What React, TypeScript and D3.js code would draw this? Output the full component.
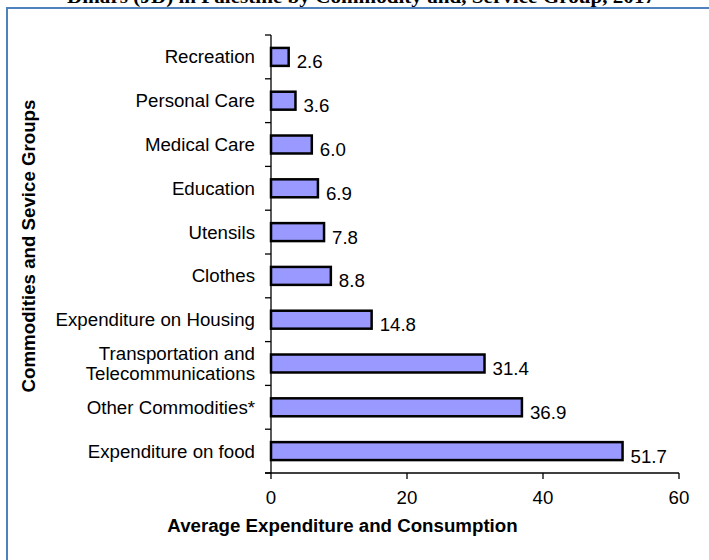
import React from "react";
import * as d3 from "d3";

const categories = [
  "Recreation",
  "Personal Care",
  "Medical Care",
  "Education",
  "Utensils",
  "Clothes",
  "Expenditure on Housing",
  "Transportation and\nTelecommunications",
  "Other Commodities*",
  "Expenditure on food",
];
const values = [2.6, 3.6, 6.0, 6.9, 7.8, 8.8, 14.8, 31.4, 36.9, 51.7];
const xTicks = [0, 20, 40, 60];
const title = "Dinars (JD) in Palestine by Commodity and, Service Group, 2017";
const xTitle = "Average Expenditure and Consumption";
const yTitle = "Commodities and Sevice Groups";

export default function App() {
  const W = 709;
  const H = 560;
  const FS = 18.7;
  const x = d3.scaleLinear().domain([0, 60]).range([271, 679]);
  const y = d3
    .scaleBand<string>()
    .domain(categories)
    .range([35, 473])
    .paddingInner(0.59)
    .paddingOuter(0.295);
  const step = y.step();
  const top = 35;
  const font = "Arial, 'Liberation Sans', sans-serif";
  const boundaries = d3.range(categories.length + 1).map((k) => top + k * step);

  return (
    <svg
      width={W}
      height={H}
      style={{ position: "absolute", left: 0, top: 0, background: "#fff" }}
    >
      <rect x={0} y={0} width={W} height={H} fill="#fff" />
      <text
        x={361}
        y={3}
        textAnchor="middle"
        fontFamily="'Liberation Serif', 'Times New Roman', serif"
        fontWeight="bold"
        fontSize={18}
        textLength={588}
        lengthAdjust="spacingAndGlyphs"
      >
        {title}
      </text>
      <rect
        x={7}
        y={8}
        width={W + 20}
        height={H + 20}
        fill="none"
        stroke="#4f81bd"
        strokeWidth={2}
      />
      {categories.map((c, i) => (
        <rect
          key={c}
          x={x(0)}
          y={y(c)!}
          width={x(values[i]) - x(0)}
          height={y.bandwidth()}
          fill="#9999ff"
          stroke="#000"
          strokeWidth={2.5}
        />
      ))}
      {categories.map((c, i) => (
        <text
          key={"v" + c}
          x={x(values[i]) + 8}
          y={y(c)! + y.bandwidth() / 2 + 5}
          dominantBaseline="central"
          fontFamily={font}
          fontSize={FS}
        >
          {values[i].toFixed(1)}
        </text>
      ))}
      <line x1={x(0)} x2={x(0)} y1={top} y2={top + step * categories.length} stroke="#000" strokeWidth={1.3} />
      {boundaries.map((b, k) => (
        <line key={"yt" + k} x1={x(0) - 6} x2={x(0)} y1={b} y2={b} stroke="#000" strokeWidth={1.3} />
      ))}
      {categories.map((c) => {
        const lines = c.split("\n");
        const cy = y(c)! + y.bandwidth() / 2;
        const lh = 20.5;
        return (
          <text
            key={"l" + c}
            x={255}
            textAnchor="end"
            fontFamily={font}
            fontSize={FS}
            fill="#000"
          >
            {lines.map((ln, j) => (
              <tspan
                key={j}
                x={255}
                y={cy + (j - (lines.length - 1) / 2) * lh}
                dominantBaseline="central"
              >
                {ln}
              </tspan>
            ))}
          </text>
        );
      })}
      <line x1={x(0) - 6} x2={x(60)} y1={473} y2={473} stroke="#000" strokeWidth={1.3} />
      {xTicks.map((t) => (
        <g key={"xt" + t}>
          <line x1={x(t)} x2={x(t)} y1={473} y2={479} stroke="#000" strokeWidth={1.3} />
          <text
            x={x(t)}
            y={497}
            textAnchor="middle"
            dominantBaseline="central"
            fontFamily={font}
            fontSize={FS}
          >
            {t}
          </text>
        </g>
      ))}
      <text
        x={342.5}
        y={525}
        textAnchor="middle"
        dominantBaseline="central"
        fontFamily={font}
        fontWeight="bold"
        fontSize={FS}
      >
        {xTitle}
      </text>
      <text
        transform={`translate(28,246) rotate(-90)`}
        textAnchor="middle"
        dominantBaseline="central"
        fontFamily={font}
        fontWeight="bold"
        fontSize={FS}
      >
        {yTitle}
      </text>
    </svg>
  );
}
